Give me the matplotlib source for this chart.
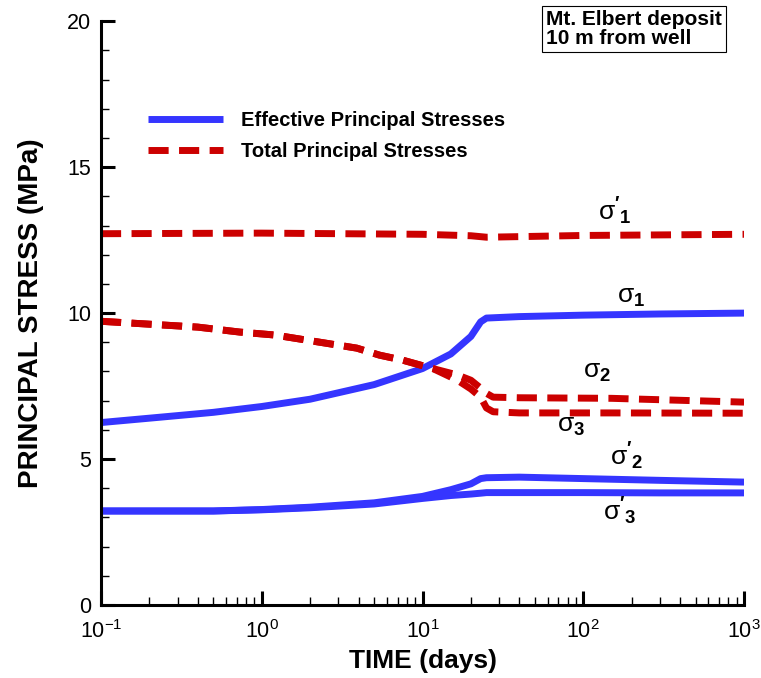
import numpy as np
import matplotlib
matplotlib.use('Agg')
import matplotlib.pyplot as plt
from matplotlib.ticker import LogLocator, MultipleLocator

plt.rcParams['font.family'] = ['Liberation Sans', 'DejaVu Sans']
plt.rcParams['mathtext.fontset'] = 'custom'
plt.rcParams['mathtext.rm'] = 'Liberation Sans'
plt.rcParams['mathtext.it'] = 'Liberation Sans'
plt.rcParams['mathtext.bf'] = 'Liberation Sans:bold'

# time in days
t_eff1 = [0.1, 0.2, 0.5, 1, 2, 5, 10, 15, 20, 23, 25, 40, 100, 300, 1000]
eff_s1 = [6.25, 6.4, 6.6, 6.8, 7.05, 7.55, 8.1, 8.6, 9.2, 9.7, 9.83, 9.88, 9.93, 9.97, 10.0]

t_eff = [0.1, 0.5, 1, 2, 5, 10, 15, 20, 23, 25, 40, 100, 300, 1000]
eff_s2 = [3.22, 3.22, 3.27, 3.35, 3.5, 3.72, 3.95, 4.15, 4.33, 4.36, 4.38, 4.33, 4.27, 4.21]
eff_s3 = [3.22, 3.22, 3.26, 3.33, 3.46, 3.65, 3.75, 3.8, 3.83, 3.85, 3.85, 3.85, 3.84, 3.84]

t_tot1 = [0.1, 1, 10, 20, 25, 40, 100, 1000]
tot_s1 = [12.72, 12.74, 12.7, 12.65, 12.6, 12.62, 12.66, 12.7]

t_tot = [0.1, 0.4, 0.73, 1.2, 2.5, 3.9, 5.4, 7.5, 11.6, 16.5, 20, 23, 25, 27.5, 40, 150, 1000]
tot_s2 = [9.72, 9.52, 9.35, 9.25, 8.97, 8.8, 8.56, 8.39, 8.1, 7.88, 7.7, 7.43, 7.25, 7.12, 7.1, 7.08, 6.95]
tot_s3 = [9.72, 9.52, 9.35, 9.25, 8.97, 8.8, 8.56, 8.39, 8.1, 7.7, 7.4, 7.12, 6.75, 6.62, 6.58, 6.58, 6.57]

# curve labels: (text, time, stress)
curve_labels = [
    (r"$\sigma\mathbf{'}_\mathbf{1}$", 123, 13.18),
    (r"$\sigma_\mathbf{1}$", 162, 10.34),
    (r"$\sigma_\mathbf{2}$", 100, 7.77),
    (r"$\sigma_\mathbf{3}$", 69, 5.92),
    (r"$\sigma\mathbf{'}_\mathbf{2}$", 147, 4.79),
    (r"$\sigma\mathbf{'}_\mathbf{3}$", 133, 2.91),
]

blue = '#3535ff'
red = '#cc0000'

fig = plt.figure(figsize=(7.61, 6.78), dpi=100)
ax = fig.add_axes([0.1327, 0.1077, 0.845, 0.861])

lw = 5
dash = (2.9, 1.5)
eff_line, = ax.plot(t_eff1, eff_s1, color=blue, lw=lw, solid_capstyle='butt')
ax.plot(t_eff, eff_s2, color=blue, lw=lw, solid_capstyle='butt')
ax.plot(t_eff, eff_s3, color=blue, lw=lw, solid_capstyle='butt')
tot_line, = ax.plot(t_tot1, tot_s1, color=red, lw=lw, dashes=dash)
ax.plot(t_tot, tot_s2, color=red, lw=lw, dashes=dash)
ax.plot(t_tot, tot_s3, color=red, lw=lw, dashes=dash)

for txt, x, y in curve_labels:
    ax.text(x, y, txt, fontsize=19, ha='left', va='baseline')

ax.set_xscale('log')
ax.set_xlim(0.1, 1000)
ax.set_ylim(0, 20)
ax.yaxis.set_major_locator(MultipleLocator(5))
ax.yaxis.set_minor_locator(MultipleLocator(1))
ax.xaxis.set_major_locator(LogLocator(base=10, numticks=10))
ax.xaxis.set_minor_locator(LogLocator(base=10, subs=np.arange(2, 10), numticks=20))

for s in ['top', 'right']:
    ax.spines[s].set_visible(False)
for s in ['left', 'bottom']:
    ax.spines[s].set_linewidth(2.2)
ax.tick_params(which='major', direction='in', length=10, width=2.2, labelsize=15.5, pad=7)
ax.tick_params(axis='x', which='major', pad=11)
ax.tick_params(which='minor', direction='in', length=6, width=1)

ax.set_xlabel('TIME (days)', fontsize=19, fontweight='bold', labelpad=4)
ax.set_ylabel('PRINCIPAL STRESS (MPa)', fontsize=20, fontweight='bold', labelpad=17)

ax.legend([eff_line, tot_line], ['Effective Principal Stresses', 'Total Principal Stresses'],
          loc='upper left', bbox_to_anchor=(0.045, 0.878), frameon=False,
          handlelength=3.7, prop={'weight': 'bold', 'size': 14.5},
          labelspacing=0.6, handletextpad=0.9)

ax.text(0.692, 1.019, 'Mt. Elbert deposit\n10 m from well', transform=ax.transAxes,
        fontsize=15, fontweight='bold', ha='left', va='top', linespacing=1.0,
        bbox=dict(boxstyle='square,pad=0.2', fc='white', ec='black', lw=0.8))

fig.savefig('out.png', dpi=100)
